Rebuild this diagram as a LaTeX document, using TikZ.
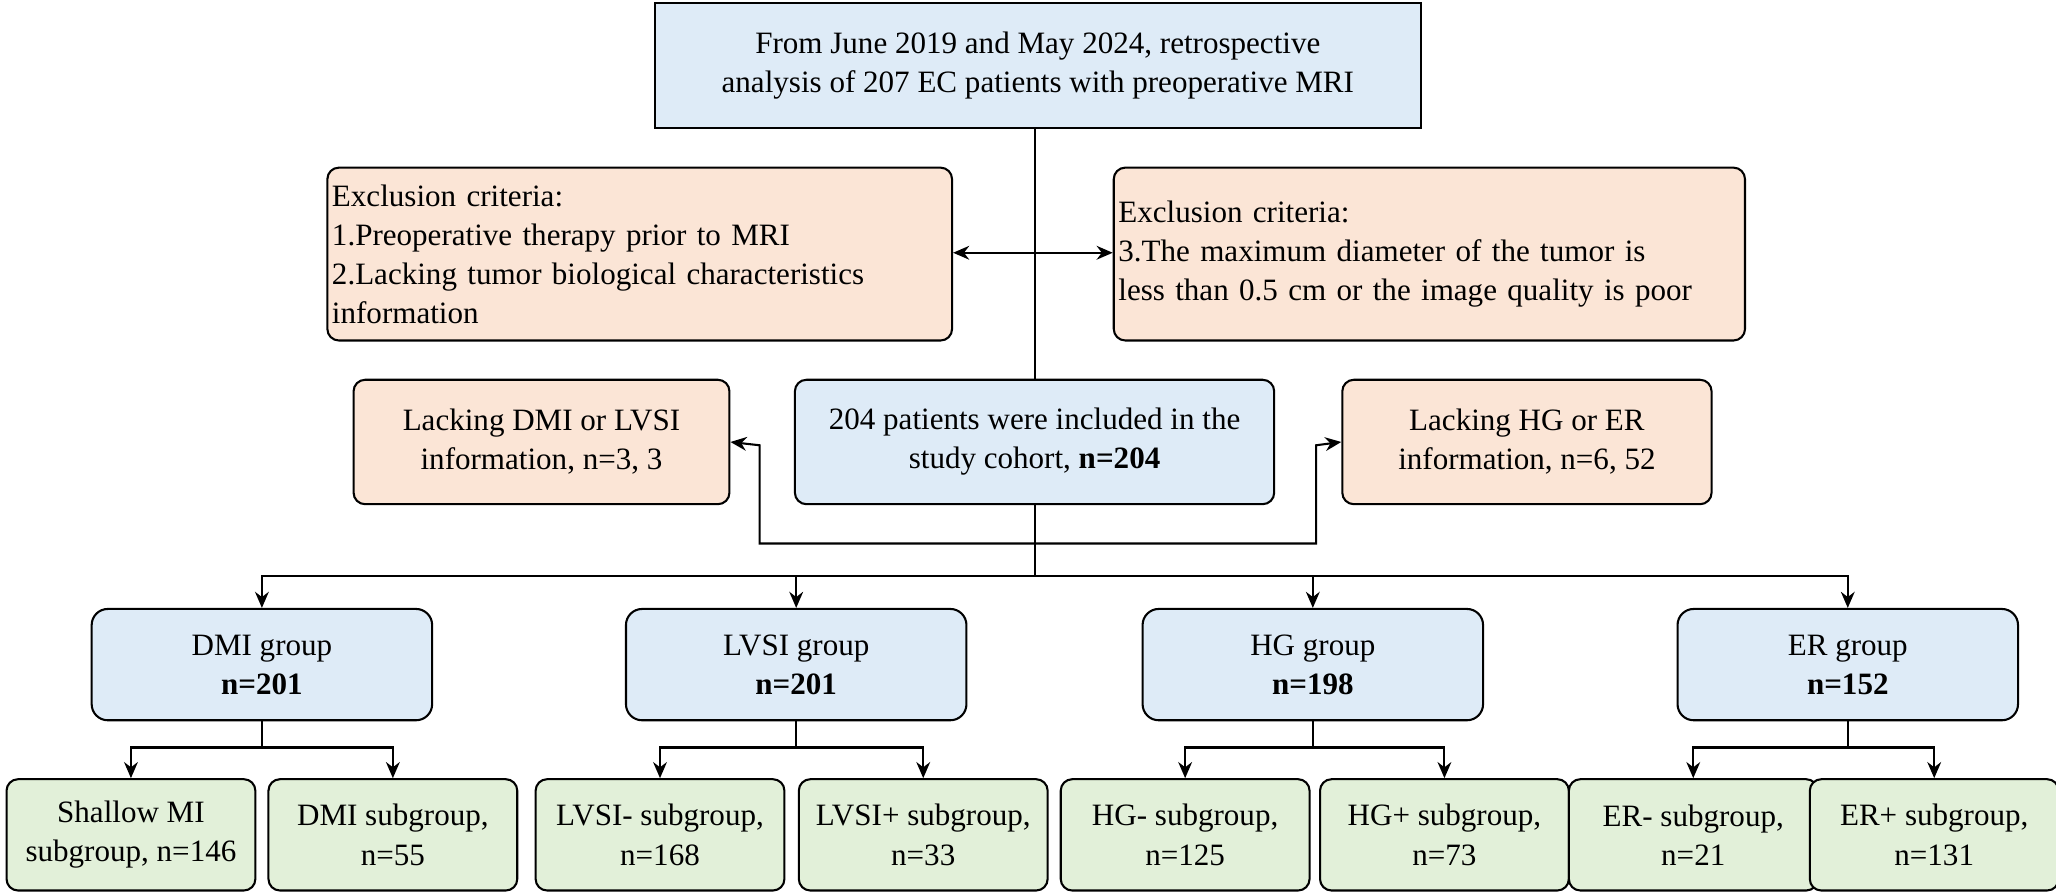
\documentclass[tikz,border=0pt]{standalone}
\usepackage{fontspec}
\setmainfont{Liberation Serif}
\usetikzlibrary{arrows.meta, positioning, calc}
\definecolor{boxBlue}{RGB}{222, 235, 247}
\definecolor{boxOrange}{RGB}{251, 229, 214}
\definecolor{boxGreen}{RGB}{226, 240, 217}
\begin{document}
\begin{tikzpicture} [
        x=0.02cm, y=-0.02cm,
        every node/.style={font=\fontsize{13.5}{17}\selectfont},
        box/.style={draw, line width=0.9pt, align=center, inner sep=2pt},
        main/.style={box, fill=boxBlue},
        excl/.style={box, fill=boxOrange, rounded corners=5pt},
        group/.style={box, fill=boxBlue, rounded corners=7pt, minimum width=260*0.02cm, minimum height=85*0.02cm},
        sub/.style={box, fill=boxGreen, rounded corners=5pt, minimum width=190*0.02cm, minimum height=85*0.02cm},
        arr/.style={-{Stealth[length=7pt, width=6pt]}, line width=0.9pt},
        line/.style={line width=0.9pt},
    ]
    \useasboundingbox (0,0) rectangle (1570,681);

    % Top and exclusion stage
    \node[main, minimum width=585*0.02cm, minimum height=96*0.02cm] (start) at (792.5,50)
        {From June 2019 and May 2024, retrospective\\analysis of 207 EC patients with preoperative MRI};
    \node[excl, align=left, text width=470*0.02cm, minimum height=132*0.02cm] (exclA) at (488.5,194)
        {Exclusion criteria:\\1.Preoperative therapy prior to MRI\\2.Lacking tumor biological characteristics\\information};
    \node[excl, align=left, text width=475*0.02cm, minimum height=132*0.02cm] (exclB) at (1091.5,194)
        {Exclusion criteria:\\3.The maximum diameter of the tumor is\\less than 0.5 cm or the image quality is poor};

    \node[main, rounded corners=5pt, minimum width=366*0.02cm, minimum height=95*0.02cm] (cohort) at (790,337.5)
        {204 patients were included in the\\study cohort, \textbf{n=204}};
    \node[excl, minimum width=287*0.02cm, minimum height=95*0.02cm] (lackA) at (413.5,337.5)
        {Lacking DMI or LVSI\\information, n=3, 3};
    \node[excl, minimum width=282*0.02cm, minimum height=95*0.02cm] (lackB) at (1166,337.5)
        {Lacking HG or ER\\information, n=6, 52};

    \draw[line] (cohort.north |- start.south) -- (cohort.north);
    \coordinate (mid) at (790,193);
    \draw[arr] (mid) -- (exclA.east |- mid);
    \draw[arr] (mid) -- (exclB.west |- mid);

    \coordinate (split) at (790,415);
    \coordinate (join) at (790,440);
    \draw[line] (cohort.south) -- (join);
    \draw[arr] (split) -| (580,340) -- (lackA.east);
    \draw[arr] (split) -| (1005,340) -- (lackB.west);

    % Groups
    \foreach \name/\x/\lab/\n in {dmi/200/DMI/201, lvsi/608/LVSI/201, hg/1002.5/HG/198, er/1411/ER/152} {
        \node[group] (\name) at (\x,507.5) {\lab\ group\\\textbf{n=\n}};
        \draw[arr] (join) -| (\name.north);
    }

    % Subgroups
    \foreach \name/\xa/\xb/\la/\lb in {
            dmi/100/300/{Shallow MI\\subgroup, n=146}/{DMI subgroup,\\n=55},
            lvsi/504/705/{LVSI- subgroup,\\n=168}/{LVSI+ subgroup,\\n=33},
            hg/905/1103/{HG- subgroup,\\n=125}/{HG+ subgroup,\\n=73},
            er/1293/1477/{ER- subgroup,\\n=21}/{ER+ subgroup,\\n=131}} {
        \node[sub] (\name a) at (\xa,637.5) {\la};
        \node[sub] (\name b) at (\xb,637.5) {\lb};
        \coordinate (\name j) at ($(\name.south)+(0,20)$);
        \draw[line] (\name.south) -- (\name j);
        \draw[arr] (\name j) -| (\name a.north);
        \draw[arr] (\name j) -| (\name b.north);
    }
\end{tikzpicture}
\end{document}
